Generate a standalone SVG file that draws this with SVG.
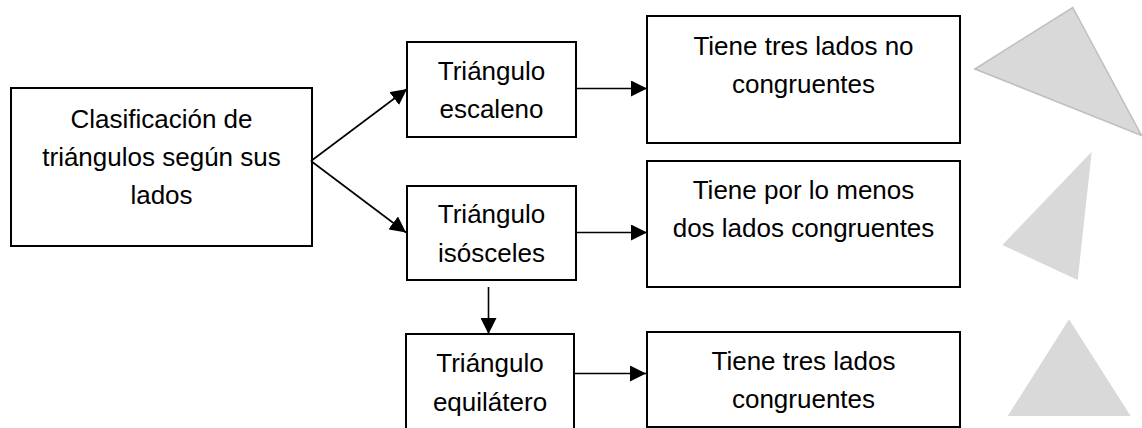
<svg xmlns="http://www.w3.org/2000/svg" width="1142" height="428" viewBox="0 0 1142 428">
<style>
.box{fill:#fff;stroke:#000;stroke-width:2}
.t{font-family:"Liberation Sans",Arial,sans-serif;font-size:26px;fill:#000;text-anchor:middle}
.c{stroke:#000;stroke-width:1.6;fill:none;marker-end:url(#ah)}
.tri{fill:#d9d9d9;stroke:none}
.tri-s{stroke:#bfbfbf;stroke-width:1.5}
</style>
<defs>
<marker id="ah" viewBox="0 0 16 16" refX="16" refY="8" markerWidth="16" markerHeight="16" markerUnits="userSpaceOnUse" orient="auto">
<path d="M0,0 L16,8 L0,16 z" fill="#000"/>
</marker>
</defs>
<rect width="1142" height="428" fill="#fff"/>
<g id="main">
<rect class="box" x="11" y="88" width="301" height="158"/>
<text class="t" x="161.5" y="128">Clasificación de</text>
<text class="t" x="161.5" y="166">triángulos según sus</text>
<text class="t" x="161.5" y="204">lados</text>
</g>
<g id="escaleno">
<rect class="box" x="407" y="42" width="169" height="95"/>
<text class="t" x="491.5" y="80">Triángulo</text>
<text class="t" x="491.5" y="118">escaleno</text>
</g>
<g id="isosceles">
<rect class="box" x="407" y="186" width="169" height="94"/>
<text class="t" x="491.5" y="223">Triángulo</text>
<text class="t" x="491.5" y="262">isósceles</text>
</g>
<g id="equilatero">
<rect class="box" x="406" y="334" width="168" height="110"/>
<text class="t" x="490" y="372">Triángulo</text>
<text class="t" x="490" y="411">equilátero</text>
</g>
<g id="desc1">
<rect class="box" x="647" y="16" width="313" height="127"/>
<text class="t" x="803.5" y="55">Tiene tres lados no</text>
<text class="t" x="803.5" y="93">congruentes</text>
</g>
<g id="desc2">
<rect class="box" x="647" y="161" width="313" height="126"/>
<text class="t" x="803.5" y="199">Tiene por lo menos</text>
<text class="t" x="803.5" y="237">dos lados congruentes</text>
</g>
<g id="desc3">
<rect class="box" x="647" y="332" width="313" height="95"/>
<text class="t" x="803.5" y="370">Tiene tres lados</text>
<text class="t" x="803.5" y="408">congruentes</text>
</g>
<g id="connectors">
<line class="c" x1="311" y1="161" x2="407" y2="89"/>
<line class="c" x1="311" y1="161" x2="406" y2="232.5"/>
<line class="c" x1="576" y1="88.5" x2="647" y2="88.5"/>
<line class="c" x1="576" y1="232.5" x2="647" y2="232.5"/>
<line class="c" x1="488.5" y1="287" x2="488.5" y2="334"/>
<line class="c" x1="574" y1="373.5" x2="646" y2="373.5"/>
</g>
<g id="shapes">
<polygon class="tri tri-s" points="975,69 1072.7,7.5 1141.5,135.5"/>
<polygon class="tri" points="1091.7,151.7 1002.3,245 1077.7,280"/>
<polygon class="tri" points="1069,319.3 1007.7,416 1130.7,416"/>
</g>
</svg>
